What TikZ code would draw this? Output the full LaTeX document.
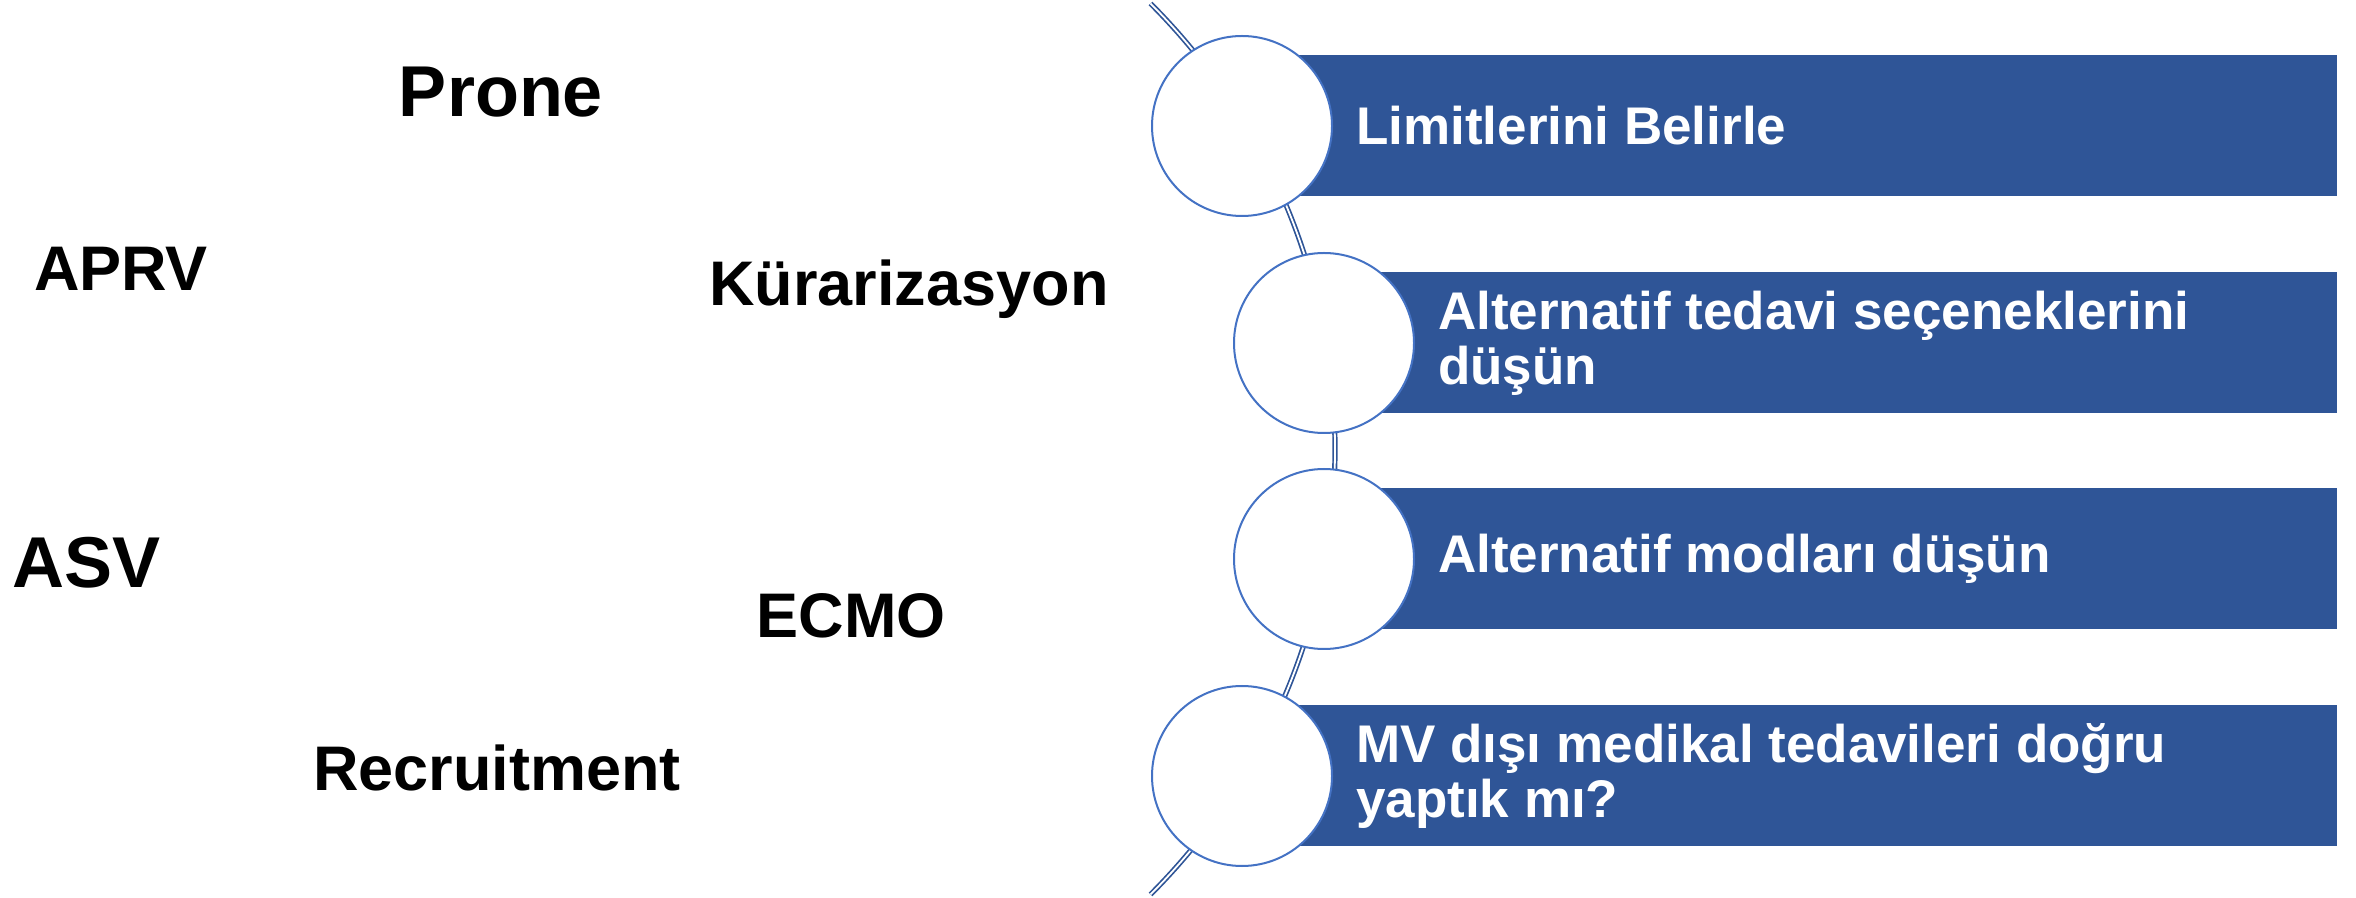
\documentclass[tikz,border=0pt]{standalone}
\usepackage{fontspec}
\setmainfont{Liberation Sans}
\usetikzlibrary{positioning}
\definecolor{BarBlue}{RGB}{47,85,151}
\definecolor{RimBlue}{RGB}{68,114,196}
\tikzset{
  dot/.style={circle,draw=RimBlue,fill=white,line width=2pt,minimum size=180pt,inner sep=0pt},
  rail/.style={draw=BarBlue,line width=1.7pt,double=white,double distance=1.8pt},
  bar/.style={rectangle,fill=BarBlue,minimum height=141pt,inner sep=0pt,anchor=west},
  msg/.style={text=white,font=\bfseries\fontsize{53}{55}\selectfont,align=left,anchor=west,inner sep=0pt},
  term/.style={font=\bfseries\fontsize{63}{63}\selectfont,anchor=base,inner sep=0pt},
  bigterm/.style={term,font=\bfseries\fontsize{72}{72}\selectfont},
}

\begin{document}
\begin{tikzpicture}[x=1pt,y=1pt]
\useasboundingbox (0,0) rectangle (2356,897);
\coordinate (p1) at (1242,771);
\coordinate (p2) at (1324,554);
\coordinate (p3) at (1324,338);
\coordinate (p4) at (1242,121);
\coordinate (hub) at (705,448);
\draw[rail] ([shift={(45:630)}]hub) arc[start angle=45,end angle=-45,radius=630];
\node[bar,minimum width=1095pt] (b1) at (p1) {};
\node[bar,minimum width=1013pt] (b2) at (p2) {};
\node[bar,minimum width=1013pt] (b3) at (p3) {};
\node[bar,minimum width=1095pt] (b4) at (p4) {};
\node[dot] (c1) at (p1) {};
\node[dot] (c2) at (p2) {};
\node[dot] (c3) at (p3) {};
\node[dot] (c4) at (p4) {};
\node[msg] (m1) at ([xshift=114]p1) {Limitlerini Belirle};
\node[msg] (m2) at ([xshift=114]p2) {Alternatif tedavi seçeneklerini\\düşün};
\node[msg] (m3) at ([xshift=114]p3) {Alternatif modları düşün};
\node[msg] (m4) at ([xshift=114]p4) {MV dışı medikal tedavileri doğru\\yaptık mı?};
\node[bigterm] (prone) at (501,780) {Prone};
\node[term] (aprv) at (121,606) {APRV};
\node[term] (kurar) at (909,591) {Kürarizasyon};
\node[bigterm] (asv) at (87,309) {ASV};
\node[term] (ecmo) at (851,259) {ECMO};
\node[term] (recr) at (497,106) {Recruitment};
\end{tikzpicture}
\end{document}
